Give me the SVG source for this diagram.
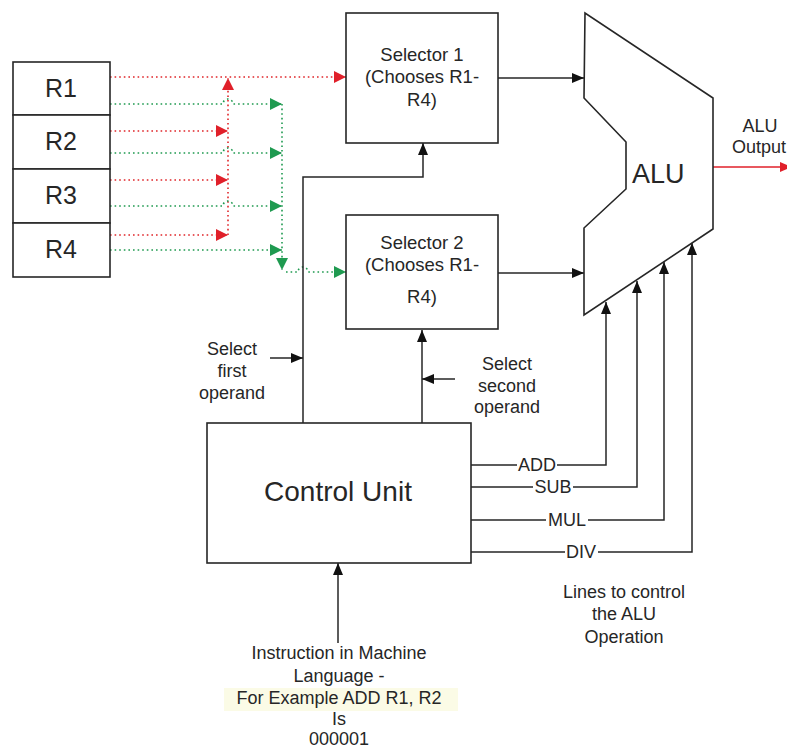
<svg xmlns="http://www.w3.org/2000/svg" width="787" height="750" viewBox="0 0 787 750">
<defs>
<style>
text{font-family:"Liberation Sans",Arial,sans-serif;fill:#262626}
.box{fill:#fff;stroke:#262626;stroke-width:1.6}
.ln{fill:none;stroke:#262626;stroke-width:1.5}
.red{fill:none;stroke:#e0262a;stroke-width:1.6;stroke-dasharray:1.6 3}
.grn{fill:none;stroke:#1f9a50;stroke-width:1.6;stroke-dasharray:1.6 3}
.reg{font-size:25px;text-anchor:middle}
.sel{font-size:18.5px;text-anchor:middle}
.lbl{font-size:18px;text-anchor:middle}
.op{font-size:18px;text-anchor:middle}
</style>
<marker id="ab" markerUnits="userSpaceOnUse" markerWidth="12" markerHeight="10" refX="12" refY="5" orient="auto"><path d="M0,0 L12,5 L0,10 z" fill="#111"/></marker>
<marker id="ar" markerUnits="userSpaceOnUse" markerWidth="12" markerHeight="12" refX="12" refY="6" orient="auto"><path d="M0,0 L12,6 L0,12 z" fill="#e0202a"/></marker>
<marker id="ag" markerUnits="userSpaceOnUse" markerWidth="12" markerHeight="12" refX="12" refY="6" orient="auto"><path d="M0,0 L12,6 L0,12 z" fill="#1f9a50"/></marker>
<marker id="aro" markerUnits="userSpaceOnUse" markerWidth="12" markerHeight="10" refX="12" refY="5" orient="auto"><path d="M0,0 L12,5 L0,10 z" fill="#e0202a"/></marker>
</defs>
<rect width="787" height="750" fill="#fff"/>

<g id="connectors">
  <path class="red" d="M110,77 H346" marker-end="url(#ar)"/>
  <path class="red" d="M110,131 H228" marker-end="url(#ar)"/>
  <path class="red" d="M110,180 H228" marker-end="url(#ar)"/>
  <path class="red" d="M110,235 H228" marker-end="url(#ar)"/>
  <path class="red" d="M228,235 V78" marker-end="url(#ar)"/>
  <path class="grn" d="M110,104 H223 a5,5 0 0 1 10,0 H282" marker-end="url(#ag)"/>
  <path class="grn" d="M110,153 H223 a5,5 0 0 1 10,0 H282" marker-end="url(#ag)"/>
  <path class="grn" d="M110,206 H223 a5,5 0 0 1 10,0 H282" marker-end="url(#ag)"/>
  <path class="grn" d="M110,250 H282" marker-end="url(#ag)"/>
  <path class="grn" d="M282,104 V270" marker-end="url(#ag)"/>
  <path class="grn" d="M286,272 H298 a5,5 0 0 1 10,0 H346" marker-end="url(#ag)"/>
  <path class="ln" d="M498,78 H584" marker-end="url(#ab)"/>
  <path class="ln" d="M498,273 H584" marker-end="url(#ab)"/>
  <path class="ln" d="M303,423 V177 H423 V143" marker-end="url(#ab)"/>
  <path class="ln" d="M422,423 V330" marker-end="url(#ab)"/>
  <path class="ln" d="M270,358 H303" marker-end="url(#ab)"/>
  <path class="ln" d="M455,379 H422" marker-end="url(#ab)"/>
  <path class="ln" d="M471,465 H606 V302" marker-end="url(#ab)"/>
  <path class="ln" d="M471,487 H637 V281" marker-end="url(#ab)"/>
  <path class="ln" d="M471,520 H664 V262" marker-end="url(#ab)"/>
  <path class="ln" d="M471,552 H692 V243" marker-end="url(#ab)"/>
  <path class="ln" d="M338,643 V563" marker-end="url(#ab)"/>
  <path fill="none" stroke="#e0202a" stroke-width="1.5" d="M713,167 H792" marker-end="url(#aro)"/>
</g>

<g id="R1"><rect class="box" x="13" y="62" width="97" height="53"/><text class="reg" x="61" y="97">R1</text></g>
<g id="R2"><rect class="box" x="13" y="115" width="97" height="54"/><text class="reg" x="61" y="150">R2</text></g>
<g id="R3"><rect class="box" x="13" y="169" width="97" height="54"/><text class="reg" x="61" y="204">R3</text></g>
<g id="R4"><rect class="box" x="13" y="223" width="97" height="54"/><text class="reg" x="61" y="258">R4</text></g>

<g id="selector1"><rect class="box" x="346" y="13" width="152" height="130"/>
<text class="sel" x="422" y="61">Selector 1</text>
<text class="sel" x="422" y="83">(Chooses R1-</text>
<text class="sel" x="422" y="106">R4)</text></g>

<g id="selector2"><rect class="box" x="346" y="215" width="152" height="114"/>
<text class="sel" x="422" y="249">Selector 2</text>
<text class="sel" x="422" y="271">(Chooses R1-</text>
<text class="sel" x="422" y="303">R4)</text></g>

<g id="alu"><path class="box" d="M585,13 L584,98 L626,142 L626,189 L584,228 L584,315 L713,229 L713,98 Z"/>
<text x="632" y="183" style="font-size:27px">ALU</text></g>

<g id="alu-output-label">
<text class="lbl" x="760" y="132">ALU</text>
<text x="732" y="153" style="font-size:18px">Output</text></g>

<g id="control-unit"><rect class="box" x="207" y="423" width="264" height="140"/>
<text x="338" y="501" style="font-size:28px;text-anchor:middle">Control Unit</text></g>

<g id="select-first-label">
<text class="lbl" x="232" y="355">Select</text>
<text class="lbl" x="232" y="377">first</text>
<text class="lbl" x="232" y="399">operand</text></g>

<g id="select-second-label">
<text class="lbl" x="507" y="370">Select</text>
<text class="lbl" x="507" y="392">second</text>
<text class="lbl" x="507" y="413">operand</text></g>

<g id="op-labels">
<rect x="517" y="455" width="40" height="18" fill="#fff"/><text class="op" x="537" y="471">ADD</text>
<rect x="533" y="477" width="40" height="18" fill="#fff"/><text class="op" x="553" y="493">SUB</text>
<rect x="546" y="510" width="42" height="18" fill="#fff"/><text class="op" x="567" y="526">MUL</text>
<rect x="565" y="542" width="33" height="18" fill="#fff"/><text class="op" x="581" y="558">DIV</text></g>

<g id="alu-lines-label">
<text class="lbl" x="624" y="598">Lines to control</text>
<text class="lbl" x="624" y="620">the ALU</text>
<text class="lbl" x="624" y="643">Operation</text></g>

<g id="instruction-label">
<rect x="224" y="688" width="234" height="23" fill="#fbfbe6"/>
<text class="lbl" x="339" y="659">Instruction in Machine</text>
<text class="lbl" x="339" y="682">Language -</text>
<text class="lbl" x="339" y="704">For Example ADD R1, R2</text>
<text class="lbl" x="339" y="725">Is</text>
<text class="lbl" x="339" y="745">000001</text></g>
</svg>
